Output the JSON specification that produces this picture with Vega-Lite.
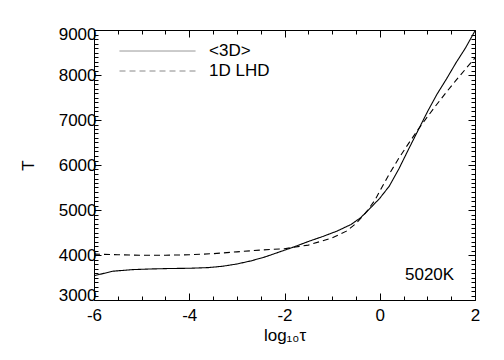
{
  "$schema": "https://vega.github.io/schema/vega-lite/v6.json",
  "width": 381,
  "height": 270,
  "autosize": {"type": "none"},
  "padding": {"left": 94, "top": 30, "right": 29, "bottom": 60},
  "background": "white",
  "config": {
    "view": {"stroke": "black", "strokeWidth": 1},
    "font": "Liberation Sans",
    "axis": {"domain": false, "grid": false, "tickColor": "black", "tickWidth": 1, "labelColor": "black", "titleColor": "black", "labelFont": "Liberation Sans", "titleFont": "Liberation Sans", "labelFontSize": 17, "titleFontSize": 17, "titleFontWeight": "normal"}
  },
  "data": {"values": [
    {"series": "<3D>", "logtau": -6.0, "T": 3540},
    {"series": "<3D>", "logtau": -5.6, "T": 3640},
    {"series": "<3D>", "logtau": -5.2, "T": 3675},
    {"series": "<3D>", "logtau": -4.8, "T": 3690},
    {"series": "<3D>", "logtau": -4.4, "T": 3700},
    {"series": "<3D>", "logtau": -4.0, "T": 3705},
    {"series": "<3D>", "logtau": -3.6, "T": 3720},
    {"series": "<3D>", "logtau": -3.3, "T": 3750},
    {"series": "<3D>", "logtau": -3.0, "T": 3800},
    {"series": "<3D>", "logtau": -2.7, "T": 3870},
    {"series": "<3D>", "logtau": -2.4, "T": 3960},
    {"series": "<3D>", "logtau": -2.1, "T": 4070},
    {"series": "<3D>", "logtau": -1.8, "T": 4180},
    {"series": "<3D>", "logtau": -1.5, "T": 4300},
    {"series": "<3D>", "logtau": -1.2, "T": 4410},
    {"series": "<3D>", "logtau": -0.9, "T": 4530},
    {"series": "<3D>", "logtau": -0.6, "T": 4680},
    {"series": "<3D>", "logtau": -0.4, "T": 4830},
    {"series": "<3D>", "logtau": -0.2, "T": 5040},
    {"series": "<3D>", "logtau": 0.0, "T": 5260},
    {"series": "<3D>", "logtau": 0.2, "T": 5530},
    {"series": "<3D>", "logtau": 0.4, "T": 5910},
    {"series": "<3D>", "logtau": 0.6, "T": 6340},
    {"series": "<3D>", "logtau": 0.8, "T": 6760},
    {"series": "<3D>", "logtau": 1.0, "T": 7180},
    {"series": "<3D>", "logtau": 1.2, "T": 7570},
    {"series": "<3D>", "logtau": 1.4, "T": 7910},
    {"series": "<3D>", "logtau": 1.6, "T": 8270},
    {"series": "<3D>", "logtau": 1.8, "T": 8600},
    {"series": "<3D>", "logtau": 2.0, "T": 8980},
    {"series": "1D LHD", "logtau": -6.0, "T": 4020},
    {"series": "1D LHD", "logtau": -5.5, "T": 4005},
    {"series": "1D LHD", "logtau": -5.0, "T": 3995},
    {"series": "1D LHD", "logtau": -4.5, "T": 3995},
    {"series": "1D LHD", "logtau": -4.0, "T": 4005},
    {"series": "1D LHD", "logtau": -3.5, "T": 4030},
    {"series": "1D LHD", "logtau": -3.0, "T": 4070},
    {"series": "1D LHD", "logtau": -2.5, "T": 4110},
    {"series": "1D LHD", "logtau": -2.0, "T": 4140},
    {"series": "1D LHD", "logtau": -1.5, "T": 4220},
    {"series": "1D LHD", "logtau": -1.0, "T": 4380},
    {"series": "1D LHD", "logtau": -0.7, "T": 4530},
    {"series": "1D LHD", "logtau": -0.5, "T": 4700},
    {"series": "1D LHD", "logtau": -0.3, "T": 4930},
    {"series": "1D LHD", "logtau": -0.1, "T": 5220},
    {"series": "1D LHD", "logtau": 0.0, "T": 5420},
    {"series": "1D LHD", "logtau": 0.2, "T": 5800},
    {"series": "1D LHD", "logtau": 0.4, "T": 6150},
    {"series": "1D LHD", "logtau": 0.6, "T": 6470},
    {"series": "1D LHD", "logtau": 0.8, "T": 6780},
    {"series": "1D LHD", "logtau": 1.0, "T": 7070},
    {"series": "1D LHD", "logtau": 1.2, "T": 7350},
    {"series": "1D LHD", "logtau": 1.4, "T": 7620},
    {"series": "1D LHD", "logtau": 1.6, "T": 7880},
    {"series": "1D LHD", "logtau": 1.8, "T": 8130},
    {"series": "1D LHD", "logtau": 2.0, "T": 8380}
  ]},
  "layer": [
    {
      "mark": {"type": "line", "color": "black", "strokeWidth": 1.1, "clip": true},
      "encoding": {
        "x": {"field": "logtau", "type": "quantitative", "scale": {"domain": [-6, 2], "nice": false, "zero": false},
          "axis": {"orient": "bottom", "title": "log₁₀τ", "titlePadding": 4,
            "values": [-6,-5.5,-5,-4.5,-4,-3.5,-3,-2.5,-2,-1.5,-1,-0.5,0,0.5,1,1.5,2],
            "tickSize": {"condition": {"test": "datum.value % 2 === 0", "value": -7}, "value": -4},
            "labelExpr": "datum.value % 2 === 0 ? '' + datum.value : ''", "labelPadding": 14, "labelFlush": false}},
        "y": {"field": "T", "type": "quantitative", "scale": {"domain": [3000, 9000], "nice": false, "zero": false},
          "axis": {"orient": "left", "title": "T", "titlePadding": 21,
            "values": [3000,3100,3200,3300,3400,3500,3600,3700,3800,3900,4000,4100,4200,4300,4400,4500,4600,4700,4800,4900,5000,5100,5200,5300,5400,5500,5600,5700,5800,5900,6000,6100,6200,6300,6400,6500,6600,6700,6800,6900,7000,7100,7200,7300,7400,7500,7600,7700,7800,7900,8000,8100,8200,8300,8400,8500,8600,8700,8800,8900,9000],
            "tickSize": {"condition": {"test": "datum.value % 1000 === 0", "value": -7}, "value": -4},
            "labelExpr": "datum.value % 1000 === 0 ? '' + datum.value : ''", "labelPadding": 5, "labelFlush": true, "labelFlushOffset": 4}},
        "strokeDash": {"field": "series", "type": "nominal",
          "scale": {"domain": ["<3D>", "1D LHD"], "range": [[1, 0], [6, 4]]},
          "legend": {"title": null, "orient": "none", "legendX": 25, "legendY": 11, "symbolType": "stroke", "symbolSize": 5776, "clipHeight": 20, "symbolStrokeWidth": 1, "symbolStrokeColor": "#888", "labelFontSize": 17, "labelFont": "Liberation Sans", "labelColor": "black", "labelOffset": 13, "rowPadding": 0, "padding": 0}}
      }
    },
    {
      "mark": {"type": "point", "opacity": 0},
      "encoding": {
        "x": {"field": "logtau", "type": "quantitative",
          "axis": {"orient": "top", "title": null, "labels": false,
            "values": [-6,-5.5,-5,-4.5,-4,-3.5,-3,-2.5,-2,-1.5,-1,-0.5,0,0.5,1,1.5,2],
            "tickSize": {"condition": {"test": "datum.value % 2 === 0", "value": -7}, "value": -4}}},
        "y": {"field": "T", "type": "quantitative",
          "axis": {"orient": "right", "title": null, "labels": false,
            "values": [3000,3100,3200,3300,3400,3500,3600,3700,3800,3900,4000,4100,4200,4300,4400,4500,4600,4700,4800,4900,5000,5100,5200,5300,5400,5500,5600,5700,5800,5900,6000,6100,6200,6300,6400,6500,6600,6700,6800,6900,7000,7100,7200,7300,7400,7500,7600,7700,7800,7900,8000,8100,8200,8300,8400,8500,8600,8700,8800,8900,9000],
            "tickSize": {"condition": {"test": "datum.value % 1000 === 0", "value": -7}, "value": -4}}}
      }
    },
    {
      "data": {"values": [{"logtau": 0.53, "T": 3560, "label": "5020K"}]},
      "mark": {"type": "text", "align": "left", "baseline": "middle", "font": "Liberation Sans", "fontSize": 17, "color": "black"},
      "encoding": {
        "x": {"field": "logtau", "type": "quantitative", "axis": null},
        "y": {"field": "T", "type": "quantitative", "axis": null},
        "text": {"field": "label"}
      }
    }
  ],
  "resolve": {"axis": {"x": "independent", "y": "independent"}}
}
